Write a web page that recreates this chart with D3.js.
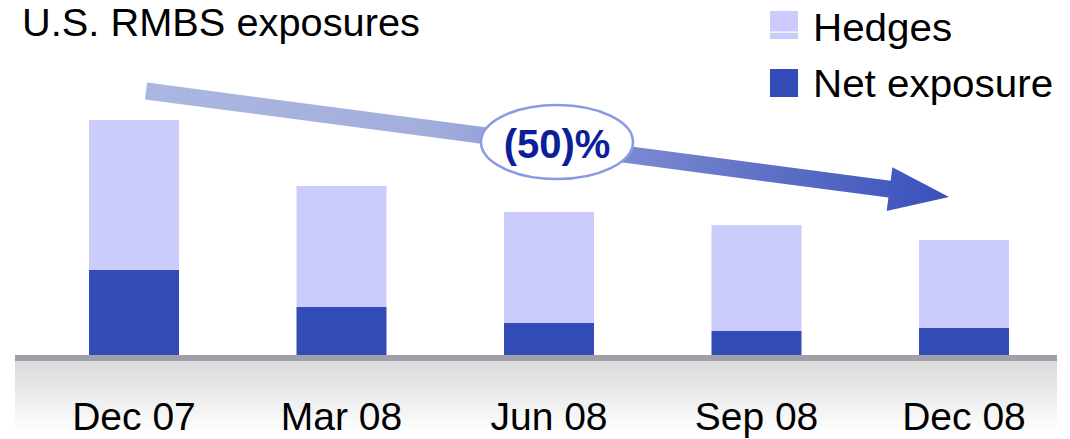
<!DOCTYPE html>
<html>
<head>
<meta charset="utf-8">
<script src="https://cdn.jsdelivr.net/npm/d3@7/dist/d3.min.js"></script>
<style>
  body { margin: 0; background: #fff; }
  text { font-family: "Liberation Sans", Arial, sans-serif; }
</style>
</head>
<body>
<div id="canvas"></div>
<script>
var periods = ["Dec 07", "Mar 08", "Jun 08", "Sep 08", "Dec 08"];
var netExposure = [85, 48, 32, 24, 27];
var hedges = [150, 121, 111, 106, 88];
var changeLabel = "(50)%";
var seriesNames = ["Hedges", "Net exposure"];

var width = 1070, height = 439;
var baseY = 355;
var barW = 90;
var netColor = "#334cb8", hedgeColor = "#ccccfc";

var svg = d3.select("#canvas").append("svg")
    .attr("width", width)
    .attr("height", height);

var defs = svg.append("defs");
var floorGrad = defs.append("linearGradient")
    .attr("id", "floor").attr("x1", 0).attr("y1", 0).attr("x2", 0).attr("y2", 1);
floorGrad.append("stop").attr("offset", "0%").attr("stop-color", "#dadada");
floorGrad.append("stop").attr("offset", "100%").attr("stop-color", "#ffffff");

var arrowGrad = defs.append("linearGradient")
    .attr("id", "arrowGrad").attr("gradientUnits", "userSpaceOnUse")
    .attr("x1", 145).attr("y1", 0).attr("x2", 948).attr("y2", 0);
arrowGrad.append("stop").attr("offset", "0%").attr("stop-color", "#abb6e1");
arrowGrad.append("stop").attr("offset", "35%").attr("stop-color", "#a3aedd");
arrowGrad.append("stop").attr("offset", "100%").attr("stop-color", "#3a50bb");

var x = d3.scalePoint().domain(periods).range([134, 964]);
var y = d3.scaleLinear().domain([0, 235]).range([baseY, 120]);

var rows = periods.map(function (p, i) {
    return { period: p, net: netExposure[i], hedge: hedges[i] };
});

// stretch a text a little so it fills the width seen in the picture
function widen(sel, k) {
    sel.each(function () {
        var w = this.getComputedTextLength();
        d3.select(this).attr("textLength", w * k).attr("lengthAdjust", "spacingAndGlyphs");
    });
}

// floor under the bars
svg.append("rect")
    .attr("x", 15).attr("y", baseY + 6)
    .attr("width", 1042).attr("height", 72)
    .attr("fill", "url(#floor)");
svg.append("rect")
    .attr("x", 15).attr("y", baseY)
    .attr("width", 1042).attr("height", 6)
    .attr("fill", "#a0a0aa");

// bars
svg.selectAll("rect.net").data(rows).enter().append("rect")
    .attr("class", "net")
    .attr("x", function (d) { return x(d.period) - barW / 2; })
    .attr("y", function (d) { return y(d.net); })
    .attr("width", barW)
    .attr("height", function (d) { return baseY - y(d.net); })
    .attr("fill", netColor);

svg.selectAll("rect.hedge").data(rows).enter().append("rect")
    .attr("class", "hedge")
    .attr("x", function (d) { return x(d.period) - barW / 2; })
    .attr("y", function (d) { return y(d.net + d.hedge); })
    .attr("width", barW)
    .attr("height", function (d) { return y(d.net) - y(d.net + d.hedge); })
    .attr("fill", hedgeColor);

// category labels
svg.selectAll("text.cat").data(periods).enter().append("text")
    .attr("class", "cat")
    .attr("x", function (d) { return x(d); })
    .attr("y", 430)
    .attr("text-anchor", "middle")
    .attr("font-size", 39)
    .attr("fill", "#000")
    .text(function (d) { return d; });

// title
svg.append("text")
    .attr("x", 22).attr("y", 36)
    .attr("font-size", 39)
    .attr("fill", "#000")
    .text("U.S. RMBS exposures")
    .call(widen, 1.02);

// legend
var legend = svg.append("g");
legend.append("rect").attr("x", 770).attr("y", 11).attr("width", 28).attr("height", 28).attr("fill", hedgeColor);
legend.append("rect").attr("x", 770).attr("y", 31.5).attr("width", 28).attr("height", 1.2).attr("fill", "#fff");
legend.append("rect").attr("x", 770).attr("y", 69).attr("width", 28).attr("height", 28).attr("fill", netColor);
legend.selectAll("text").data(seriesNames).enter().append("text")
    .attr("x", 813)
    .attr("y", function (d, i) { return 41 + i * 56; })
    .attr("font-size", 39)
    .attr("fill", "#000")
    .text(function (d) { return d; })
    .call(widen, 1.035);

// trend arrow, from above the first bar to above the last one
var p0 = [x(periods[0]) + 12, 91];
var tip = [x(periods[periods.length - 1]) - 15, 197];
var dx = tip[0] - p0[0], dy = tip[1] - p0[1];
var len = Math.sqrt(dx * dx + dy * dy);
var ux = dx / len, uy = dy / len;
var nx = -uy, ny = ux;
var half = 8.5, headLen = 60, headHalf = 22;
var hb = [tip[0] - ux * headLen, tip[1] - uy * headLen];
var pts = [
    [p0[0] + nx * half, p0[1] + ny * half],
    [hb[0] + nx * half, hb[1] + ny * half],
    [hb[0] + nx * headHalf, hb[1] + ny * headHalf],
    tip,
    [hb[0] - nx * headHalf, hb[1] - ny * headHalf],
    [hb[0] - nx * half, hb[1] - ny * half],
    [p0[0] - nx * half, p0[1] - ny * half]
];
svg.append("path")
    .attr("d", d3.line()(pts) + "Z")
    .attr("fill", "url(#arrowGrad)");

// change bubble
svg.append("ellipse")
    .attr("cx", 557).attr("cy", 142)
    .attr("rx", 76).attr("ry", 37)
    .attr("fill", "#fff")
    .attr("stroke", "#8a9ae0")
    .attr("stroke-width", 2.5);
svg.append("text")
    .attr("x", 557).attr("y", 158)
    .attr("text-anchor", "middle")
    .attr("font-size", 40)
    .attr("font-weight", "bold")
    .attr("fill", "#0c1e9a")
    .text(changeLabel);
</script>
</body>
</html>
